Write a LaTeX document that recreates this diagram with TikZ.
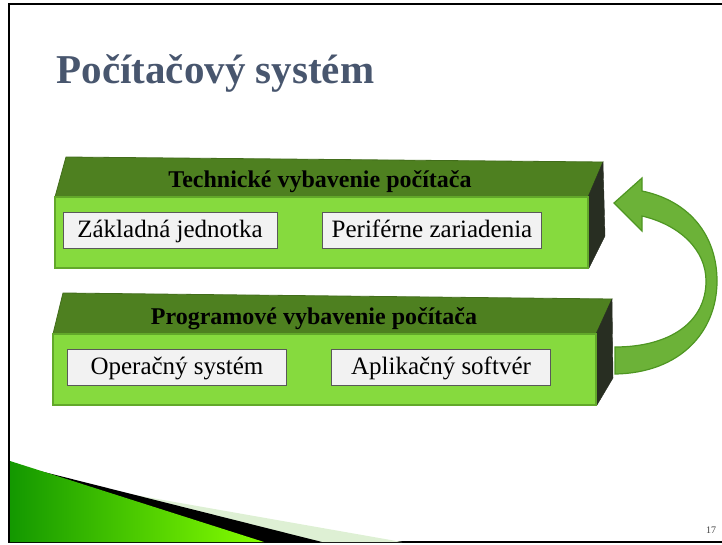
\documentclass[tikz,border=0pt]{standalone}
\usepackage{fontspec}
\setmainfont{Liberation Serif}
\definecolor{titgray}{RGB}{72,86,110}
\definecolor{frontg}{RGB}{134,218,62}
\definecolor{edgeg}{RGB}{98,168,42}
\definecolor{topg}{RGB}{78,128,32}
\definecolor{sideg}{RGB}{40,46,34}
\definecolor{arrg}{RGB}{108,178,56}
\definecolor{arre}{RGB}{78,150,34}
\definecolor{paleg}{RGB}{222,240,212}

\begin{document}
\begin{tikzpicture}
[	x=1pt,y=-1pt,
	bx/.style={rectangle,draw=black!65,fill=black!5,line width=0.8,minimum height=36,minimum width=219,inner sep=0,text height=19pt,text depth=5pt,font=\fontsize{25}{27}\selectfont},
	hd/.style={anchor=base,font=\fontsize{24}{26}\selectfont\bfseries},
	front/.style={fill=frontg,draw=edgeg,line width=2},
	topf/.style={fill=topg,draw=topg!85!black,line width=0.8},
	side/.style={fill=sideg,draw=sideg}
]
\useasboundingbox (0,0) rectangle (722,545);

% slide frame
\draw[line width=2.5] (722,4) -- (9,4) -- (9,542) -- (722,542);

% bottom left decoration
\fill[paleg] (95,488) -- (402,542) -- (320,542) -- cycle;
\fill[black] (40,471) -- (322,542) -- (262,542) -- cycle;
\shade[left color=green!55!black!90!lime,right color=lime!70!green] (10,461) -- (264,542) -- (10,542) -- cycle;

\node[anchor=base west,text=titgray,font=\fontsize{41}{44}\selectfont\bfseries] (tit) at (53,84) {Počítačový systém};

% hardware block
\path[topf] (55,197) -- (66,157) -- (603,162) -- (588,197) -- cycle;
\path[side] (588,197) -- (603,162) -- (605,236) -- (589,268) -- cycle;
\path[front] (55,197) rectangle (588,268);
\node[hd] (hw) at (320,188) {Technické vybavenie počítača};
\node[bx,minimum width=214] (zj) at (170,230) {Základná jednotka};
\node[bx] (pz) at (432,230) {Periférne zariadenia};

% software block
\path[topf] (53,334) -- (63,293) -- (612,299) -- (596,334) -- cycle;
\path[side] (596,334) -- (612,299) -- (613,378) -- (597,405) -- cycle;
\path[front] (53,334) rectangle (596,405);
\node[hd] (sw) at (314,324) {Programové vybavenie počítača};
\node[bx] (os) at (177,367) {Operačný systém};
\node[bx] (as) at (441,367) {Aplikačný softvér};

% curved block arrow
\filldraw[fill=arrg,draw=arre,line width=1.2]
	(615,374) .. controls (680,373) and (717,332) .. (717,281)
	.. controls (717,236) and (690,201) .. (642,191)
	-- (642,178) -- (614,203) -- (642,231) -- (642,216)
	.. controls (680,225) and (706,250) .. (706,281)
	.. controls (706,322) and (670,347) .. (615,347) -- cycle;

\node[text=black!75,font=\fontsize{10}{11}\selectfont] (pg) at (711,530) {17};

\end{tikzpicture}
\end{document}
